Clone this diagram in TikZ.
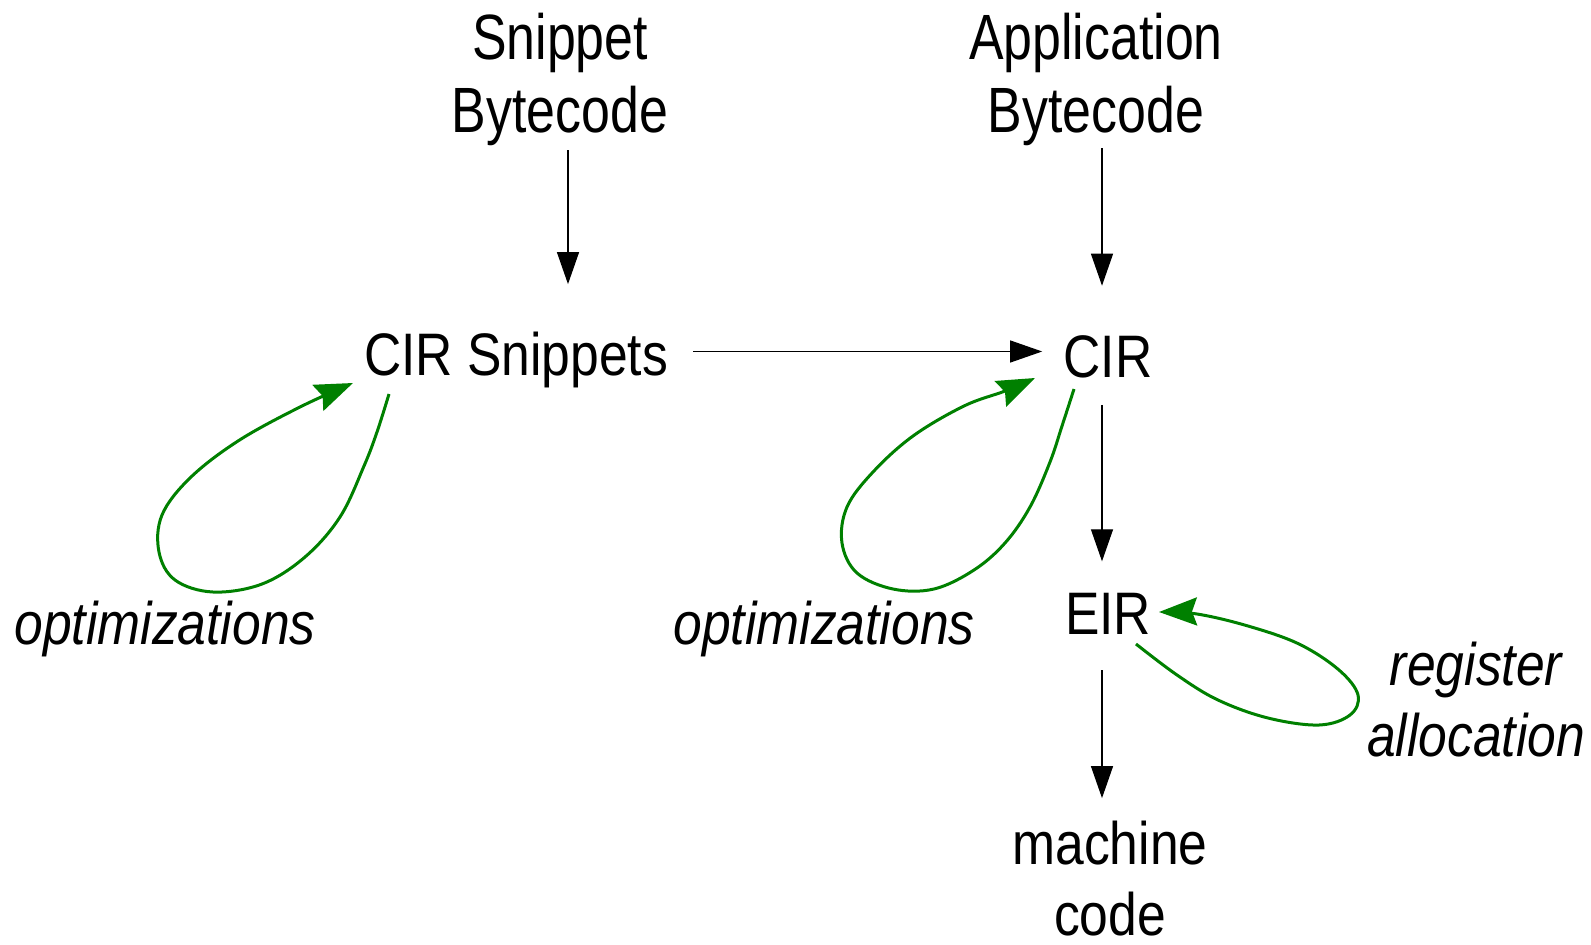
\documentclass[tikz,border=0pt]{standalone}
\usepackage{fontspec}
\setmainfont{Liberation Sans}[FakeStretch=0.86]
\newfontfamily\headfont{Liberation Sans}[FakeStretch=0.81]
\usetikzlibrary{arrows.meta,calc}
\definecolor{passgreen}{RGB}{0,128,0}

\begin{document}
\begin{tikzpicture}[x=0.5pt,y=-0.5pt,
  lbl/.style={font=\fontsize{30}{35.5}\selectfont, inner sep=0pt, align=center, anchor=base},
  head/.style={lbl, font=\headfont\fontsize{32}{36.5}\selectfont},
  note/.style={lbl, font=\fontsize{30}{35.5}\selectfont\itshape},
  flow/.style={draw=black, line width=0.6pt, -{Triangle[length=16pt,width=11pt]}},
  pass/.style={draw=passgreen, line width=1.5pt, line join=round,
    -{Stealth[length=19pt,width=14pt,inset=2.5pt,fill=passgreen]}}]

\useasboundingbox (0,0) rectangle (1591,944);

% stages of the pipeline (base = baseline of the last line)
\node[head] (sb)   at (560,132)  {Snippet\\Bytecode};
\node[head] (ab)   at (1096,132) {Application\\Bytecode};
\node[lbl] (cirs) at (516,375) {CIR Snippets};
\node[lbl] (cir)  at (1108,377) {CIR};
\node[lbl] (eir)  at (1108,634) {EIR};
\node[lbl] (mc)   at (1110,935) {machine\\code};

% pass labels
\node[note] (opt1) at (165,644)  {optimizations};
\node[note] (opt2) at (824,644)  {optimizations};
\node[note] (ra)   at (1476,756) {register\\allocation};

% main flow
\draw[flow, shorten <=2.3pt, shorten >=23.5pt]
  ([xshift=4pt]sb.south) -- ([xshift=4pt]sb.south |- cirs.north);
\draw[flow, shorten <=1.3pt, shorten >=24.5pt]
  ([xshift=-3pt]cir.north |- ab.south) -- ([xshift=-3pt]cir.north);
\draw[flow, shorten <=12.5pt, shorten >=10.5pt]
  ([yshift=4pt]cirs.east) -- ([yshift=4pt]cirs.east -| cir.west);
\draw[flow, shorten <=13.5pt, shorten >=15.5pt]
  ([xshift=-3pt]cir.south) -- ([xshift=-3pt]cir.south |- eir.north);
\draw[flow, shorten <=18pt, shorten >=11pt]
  ([xshift=-3pt]eir.south) -- ([xshift=-3pt]eir.south |- mc.north);

% self loops for the passes
\coordinate (cirs-out) at (389,394);
\coordinate (cirs-in)  at (353,383);
\coordinate (cir-out)  at (1074,389);
\coordinate (cir-in)   at (1035,378);
\coordinate (eir-out)  at (1136,644);
\coordinate (eir-in)   at (1159,612);

\draw[pass] plot[smooth, tension=0.6] coordinates {
  (cirs-out) (377,432) (364,466) (340,517) (305,557) (262,584) (213,592)
  (175,580) (159,552) (162,515) (190,478) (238,441) (300,407) (cirs-in)};
\draw[pass] plot[smooth, tension=0.6] coordinates {
  (cir-out) (1062,426) (1050,462) (1030,507) (1005,543) (974,570) (934,589)
  (893,589) (857,573) (842,543) (847,507) (873,472) (913,436) (964,406)
  (1005,391) (cir-in)};
\draw[pass] plot[smooth, tension=0.6] coordinates {
  (eir-out) (1177,675) (1218,700) (1268,718) (1319,725) (1350,715) (1358,695)
  (1339,670) (1299,644) (1248,626) (1197,614) (eir-in)};
\end{tikzpicture}
\end{document}
